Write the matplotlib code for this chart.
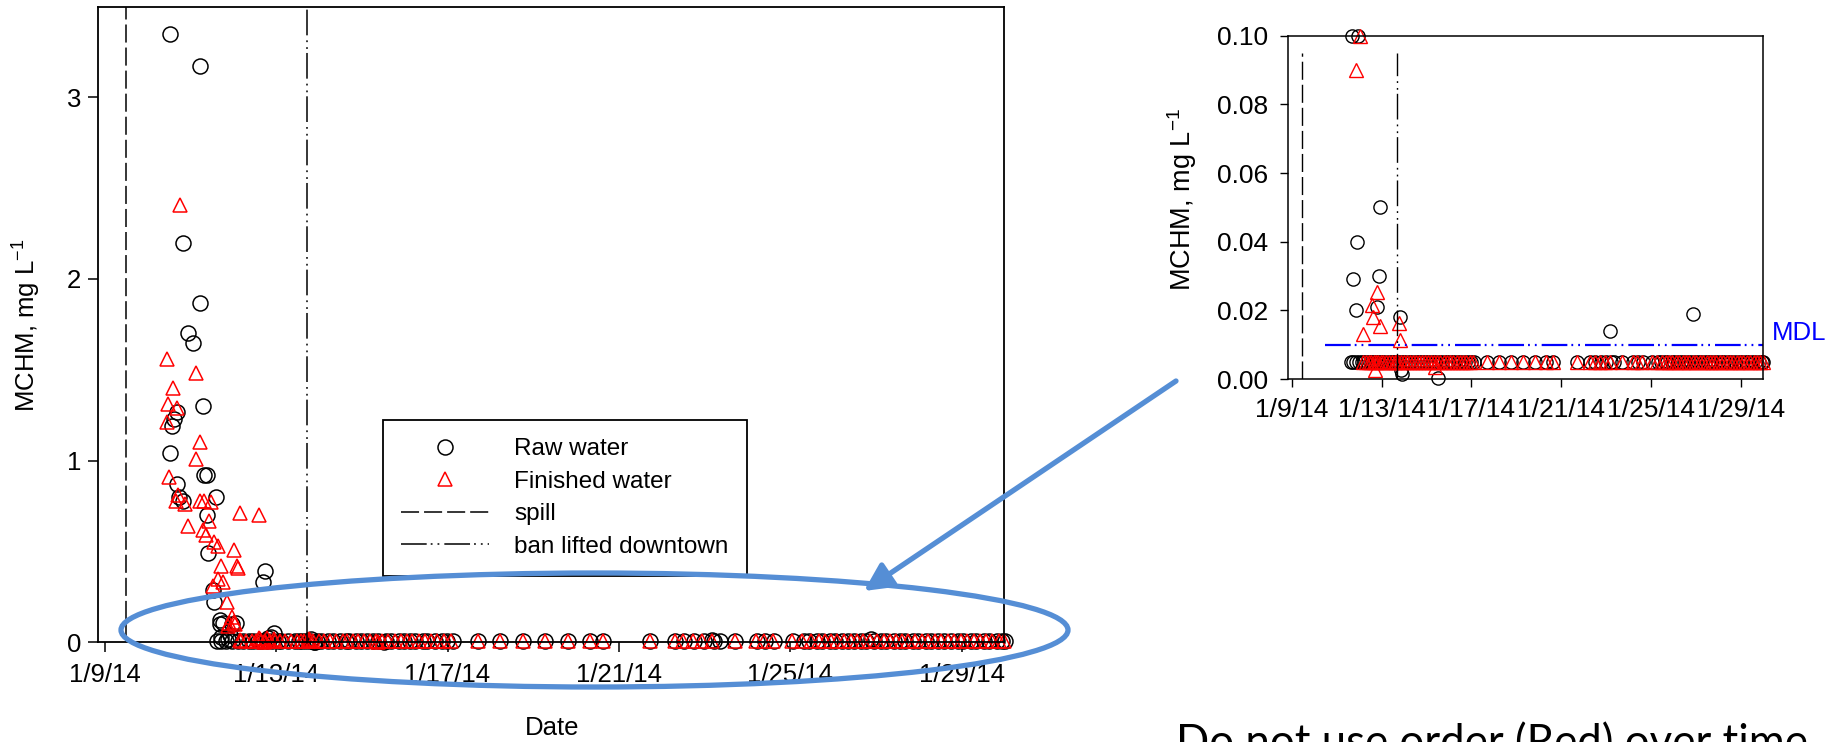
import numpy as np
import pandas as pd
import matplotlib
matplotlib.use("Agg")
import matplotlib.pyplot as plt
from matplotlib.patches import Ellipse, FancyArrowPatch
import matplotlib.transforms as mtransforms

plt.rcParams['font.family'] = ['Liberation Sans', 'DejaVu Sans']
plt.rcParams['mathtext.fontset'] = 'custom'
plt.rcParams['mathtext.rm'] = 'Liberation Sans'
plt.rcParams['mathtext.it'] = 'Liberation Sans:italic'
plt.rcParams['lines.scale_dashes'] = False

# days are counted from 1/9/14 00:00
START = pd.Timestamp("2014-01-09")
SPILL_DAY = 0.50
BAN_LIFTED_DAY = 4.72
MDL = 0.01
MDL_START_DAY = 1.48
ND_LEVEL = 0.005          # non-detects are plotted at half the MDL

tick_days = [0, 4, 8, 12, 16, 20]
tick_labels = ["1/9/14", "1/13/14", "1/17/14", "1/21/14", "1/25/14", "1/29/14"]

# raw water, detected values
raw_days = [1.52, 2.22, 1.83, 2.21, 1.95, 2.05, 2.30, 1.68, 1.61, 1.57, 1.52,
            1.68, 1.74, 1.83, 2.32, 2.38, 2.60, 2.38, 2.42, 2.52, 2.54, 2.70,
            2.77, 3.07, 3.75, 3.69, 2.69, 2.96, 2.92, 2.72, 2.88,
            3.95, 3.87, 3.81, 4.82, 4.90, 4.88, 6.52, 14.18, 17.89]
raw_vals = [3.35, 3.17, 2.20, 1.87, 1.70, 1.65, 1.30, 1.27, 1.23, 1.19, 1.04,
            0.87, 0.80, 0.78, 0.92, 0.92, 0.80, 0.70, 0.49, 0.29, 0.22, 0.12,
            0.105, 0.108, 0.39, 0.33, 0.100, 0.100, 0.040, 0.029, 0.020,
            0.050, 0.030, 0.021, 0.018, 0.0016, 0.0025, 0.0003, 0.014, 0.019]

# raw water, non-detects
raw_nd_days = [2.62, 2.72, 2.84, 2.98, 3.12, 3.22, 3.36, 3.47, 3.58,
               3.66, 3.78, 3.90, 4.04, 4.12, 4.28, 4.44, 4.53, 4.61, 4.69, 4.80,
               4.96, 5.04, 5.22, 5.33, 5.48, 5.62, 5.70, 5.86, 5.98, 6.12, 6.27,
               6.38, 6.56, 6.68, 6.87, 6.98, 7.12, 7.24, 7.42, 7.53, 7.71, 7.86,
               7.98, 8.13, 8.70, 9.22, 9.76, 10.28, 10.82, 11.33, 11.62, 12.72,
               13.30, 13.52, 13.76, 13.98, 14.22, 14.35, 14.70, 15.22, 15.41,
               15.63, 16.06, 16.31, 16.44, 16.62, 16.74, 16.92, 17.04, 17.22,
               17.36, 17.48, 17.66, 17.78, 17.96, 18.12, 18.24, 18.42, 18.56,
               18.68, 18.86, 18.98, 19.16, 19.28, 19.46, 19.58, 19.76, 19.92,
               20.04, 20.22, 20.34, 20.52, 20.64, 20.82, 20.94, 21.02]

# finished water, detected values
fin_days = [1.75, 1.44, 2.13, 1.58, 1.48, 1.69, 1.44, 2.21, 2.13, 1.50, 1.71,
            1.66, 1.87, 2.22, 2.32, 2.48, 1.95, 3.15, 3.59, 2.44, 2.29, 2.36,
            2.54, 2.65, 3.01, 2.72, 3.09, 3.12, 2.65, 2.76, 2.52, 2.85, 2.97,
            3.02, 2.89, 3.16, 3.04, 2.88, 3.79, 3.59, 3.63, 3.95, 3.71, 4.76,
            4.80, 6.38]
fin_vals = [2.41, 1.56, 1.48, 1.40, 1.31, 1.29, 1.21, 1.10, 1.01, 0.91, 0.81,
            0.78, 0.76, 0.78, 0.78, 0.77, 0.64, 0.71, 0.70, 0.67, 0.62, 0.59,
            0.55, 0.53, 0.51, 0.42, 0.42, 0.41, 0.35, 0.33, 0.31, 0.22, 0.14,
            0.11, 0.105, 0.013, 0.100, 0.090, 0.0254, 0.0215, 0.018, 0.0154,
            0.0025, 0.0163, 0.0113, 0.0035]

# finished water, non-detects
fin_nd_days = [3.17, 3.30, 3.44, 3.52, 3.64, 3.74, 3.86, 3.97, 4.08, 4.20, 4.34,
               4.48, 4.58, 4.66, 4.74, 4.86, 5.00, 5.12, 5.26, 5.40, 5.55, 5.66,
               5.80, 5.92, 6.06, 6.20, 6.32, 6.46, 6.62, 6.78, 6.92, 7.06, 7.18,
               7.34, 7.48, 7.62, 7.76, 7.92, 8.08, 8.70, 9.22, 9.76, 10.28,
               10.82, 11.33, 11.62, 12.72, 13.30, 13.50, 13.72, 13.95, 14.18,
               14.70, 15.20, 15.38, 15.60, 16.05, 16.28, 16.48, 16.66, 16.80,
               16.96, 17.10, 17.26, 17.42, 17.56, 17.70, 17.86, 18.02, 18.18,
               18.32, 18.48, 18.62, 18.76, 18.92, 19.08, 19.22, 19.38, 19.52,
               19.68, 19.82, 19.98, 20.12, 20.28, 20.44, 20.58, 20.72, 20.88,
               21.00]


def to_dates(days):
    return (START + pd.to_timedelta(np.asarray(days, dtype=float), unit="D")).to_numpy()


raw_x = to_dates(raw_days + raw_nd_days)
raw_y = np.array(raw_vals + [ND_LEVEL] * len(raw_nd_days))
fin_x = to_dates(fin_days + fin_nd_days)
fin_y = np.array(fin_vals + [ND_LEVEL] * len(fin_nd_days))

xlim = (to_dates([-0.17])[0], to_dates([21.0])[0])
ticks = to_dates(tick_days)

SPILL_DASH = (0, (13, 3.6))
BAN_DASH = (0, (18.5, 2.9, 1.3, 3.6, 1.3, 3.6))

fig = plt.figure(figsize=(18.44, 7.42), dpi=100)

# ---- main panel
ax = fig.add_axes([0.0529, 0.1344, 0.4918, 0.8568])
ax.plot(raw_x, raw_y, 'o', ms=10.8, mfc='none', mec='black', mew=1.1,
        clip_on=False, label='Raw water')
ax.plot(fin_x, fin_y, '^', ms=10.5, mfc='none', mec='red', mew=1.1,
        clip_on=False, label='Finished water')
ax.axvline(to_dates([SPILL_DAY])[0], color='black', lw=1.1, ls=SPILL_DASH, label='spill')
ax.axvline(to_dates([BAN_LIFTED_DAY])[0], color='black', lw=1.1, ls=BAN_DASH,
           label='ban lifted downtown')
ax.set_xlim(xlim)
ax.set_ylim(0, 3.5)
ax.set_yticks([0, 1, 2, 3])
ax.set_yticklabels(["0", "1", "2", "3"])
ax.set_xticks(ticks)
ax.set_xticklabels(tick_labels)
ax.tick_params(axis='both', labelsize=18.5, length=7, width=1.1, pad=8)
ax.tick_params(axis='y', pad=5)
for s in ax.spines.values():
    s.set_linewidth(1.3)
ax.set_ylabel(r"MCHM, mg L$^{-1}$", fontsize=18.5, va='center')
ax.yaxis.set_label_coords(27 / 1844, 1 - 325 / 742, transform=fig.transFigure)
ax.set_xlabel("Date", fontsize=18.5, va='center')
ax.xaxis.set_label_coords(552 / 1844, 1 - 728 / 742, transform=fig.transFigure)

leg = ax.legend(loc='upper left', bbox_to_anchor=(383 / 1844, 1 - 420 / 742),
                bbox_transform=fig.transFigure, borderaxespad=0, fontsize=17.5,
                frameon=True, fancybox=False, edgecolor='black', framealpha=1,
                borderpad=0.75, labelspacing=0.43, handlelength=3.6,
                handletextpad=1.05, numpoints=1)
leg.get_frame().set_linewidth(1.3)

# ---- zoomed panel (only values inside its range, drawn like the original)
in_raw = raw_y <= 0.1
in_fin = fin_y <= 0.1
ax2 = fig.add_axes([0.6985, 0.4892, 0.2576, 0.4627])
ax2.plot(raw_x[in_raw], raw_y[in_raw], 'o', ms=9.5, mfc='none', mec='black', mew=1.0,
         clip_on=False)
ax2.plot(fin_x[in_fin], fin_y[in_fin], '^', ms=9.5, mfc='none', mec='red', mew=1.0,
         clip_on=False)
ax2.axvline(to_dates([SPILL_DAY - 0.03])[0], ymax=0.95, color='black', lw=1.0, ls=SPILL_DASH)
ax2.axvline(to_dates([BAN_LIFTED_DAY - 0.02])[0], ymax=0.95, color='black', lw=1.0, ls=BAN_DASH)
ax2.hlines(MDL, to_dates([MDL_START_DAY])[0], xlim[1], color='blue', lw=1.6, ls=BAN_DASH)
ax2.text(1.018, MDL, "MDL", color='blue', fontsize=18.5, va='bottom', ha='left',
         transform=mtransforms.blended_transform_factory(ax2.transAxes, ax2.transData))
ax2.set_xlim(xlim)
ax2.set_ylim(0, 0.10)
ax2.set_yticks([0, 0.02, 0.04, 0.06, 0.08, 0.10])
ax2.set_yticklabels(["0.00", "0.02", "0.04", "0.06", "0.08", "0.10"])
ax2.set_xticks(ticks)
ax2.set_xticklabels(tick_labels)
ax2.tick_params(axis='both', labelsize=19, length=6, width=1.0, pad=8)
for s in ax2.spines.values():
    s.set_linewidth(1.1)
ax2.set_ylabel(r"MCHM, mg L$^{-1}$", fontsize=19.5, va='center')
ax2.yaxis.set_label_coords(1182 / 1844, 1 - 200 / 742, transform=fig.transFigure)

# ---- call-out annotations
blue = '#558ED5'
fig.add_artist(Ellipse((594.5 / 1844, 1 - 630 / 742), 947 / 1844, 114 / 742,
                       transform=fig.transFigure, fill=False, ec=blue, lw=3.8))
fig.add_artist(FancyArrowPatch((1176 / 1844, 1 - 381 / 742), (864 / 1844, 1 - 591 / 742),
                               transform=fig.transFigure, arrowstyle='-|>',
                               mutation_scale=42, color=blue, lw=3.8,
                               shrinkA=0, shrinkB=0))

fig.text(1176 / 1844, 1 - 723 / 742, "Do not use order (Red) over time",
         fontsize=31.5, family=['Lato', 'DejaVu Sans'], va='top', ha='left')

fig.savefig("out.png", dpi=100)
